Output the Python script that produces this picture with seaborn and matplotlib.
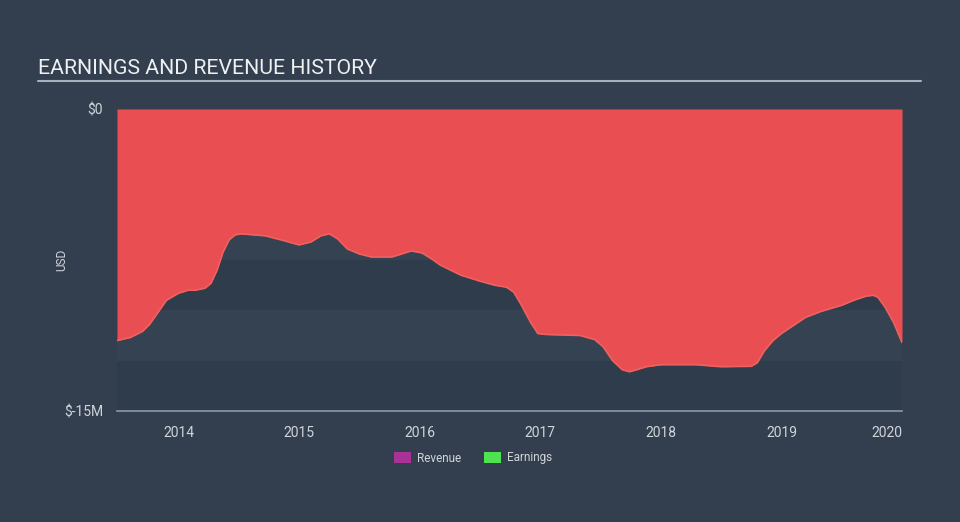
import numpy as np
import pandas as pd
import matplotlib
matplotlib.use("Agg")
import matplotlib.pyplot as plt
from matplotlib.patches import Patch
import seaborn as sns

# ---- data ----
dates = [2013.49, 2013.60, 2013.70, 2013.76, 2013.83, 2013.90, 2014.00, 2014.08, 2014.14,
         2014.22, 2014.27, 2014.32, 2014.37, 2014.42, 2014.47, 2014.52, 2014.72,
         2014.85, 2015.00, 2015.10, 2015.18, 2015.25, 2015.32, 2015.40, 2015.50,
         2015.60, 2015.77, 2015.85, 2015.93, 2016.02, 2016.10, 2016.17, 2016.34,
         2016.50, 2016.62, 2016.72, 2016.78, 2016.84, 2016.92, 2016.98, 2017.05,
         2017.33, 2017.45, 2017.52, 2017.60, 2017.68, 2017.74, 2017.80, 2017.88,
         2018.00, 2018.29, 2018.50, 2018.75, 2018.80, 2018.86, 2018.93, 2019.00,
         2019.10, 2019.20, 2019.33, 2019.50, 2019.60, 2019.70, 2019.76, 2019.80,
         2019.86, 2019.93, 2020.00]
earnings_m = [-11.5, -11.35, -11.05, -10.7, -10.1, -9.5, -9.15, -9.0, -9.0,
              -8.9, -8.65, -8.0, -7.1, -6.5, -6.25, -6.2, -6.3,
              -6.5, -6.75, -6.6, -6.3, -6.2, -6.45, -6.95, -7.2,
              -7.35, -7.35, -7.2, -7.05, -7.15, -7.45, -7.75, -8.25,
              -8.55, -8.75, -8.85, -9.1, -9.7, -10.6, -11.15, -11.2,
              -11.25, -11.45, -11.8, -12.5, -12.95, -13.05, -12.95, -12.8,
              -12.7, -12.7, -12.8, -12.78, -12.6, -12.0, -11.5, -11.15,
              -10.75, -10.35, -10.05, -9.75, -9.5, -9.3, -9.25, -9.35,
              -9.85, -10.6, -11.6]
year_ticks = [2014, 2015, 2016, 2017, 2018, 2019, 2020]
year_labels = ["2014", "2015", "2016", "2017", "2018", "2019", "2020"]
y_ticks = [0, -15]
y_labels = ["$0", "$-15M"]
legend_names = ["Revenue", "Earnings"]

df = pd.DataFrame({"date": dates, "earnings": earnings_m})

BG = "#333f4f"
RED = "#e94f52"
TXT = "#d0d5da"

sns.set_theme(style="white")
plt.rcParams["font.family"] = ["Roboto", "DejaVu Sans"]

fig = plt.figure(figsize=(9.6, 5.22), dpi=100, facecolor=BG)
ax = fig.add_axes([117/960, 1 - 411/522, (902 - 117)/960, (411 - 109)/522])
ax.set_facecolor(BG)

# background bands
band_cols = ["#2f3c4c", "#344252"]
for k in range(6):
    lo, hi = -2.5 * (k + 1), -2.5 * k
    ax.axhspan(lo, hi, color=band_cols[(k + 1) % 2], lw=0, zorder=0)

ax.fill_between(df["date"], 0, df["earnings"], color=RED, lw=0, zorder=2)
sns.lineplot(data=df, x="date", y="earnings", ax=ax, color="#f0605f", lw=1.2, zorder=3)

ax.set_xlim(2013.49, 2020.0)
ax.set_ylim(-15, 0)
ax.set_yticks(y_ticks)
ax.set_yticklabels(y_labels)
ax.set_xticks(year_ticks)
ax.set_xticklabels(year_labels)
ax.get_xticklabels()[-1].set_horizontalalignment("right")
ax.tick_params(axis="y", length=0, pad=10, colors=TXT, labelsize=10)
ax.tick_params(axis="x", length=8, width=1.2, color="#8e99a6", colors=TXT, labelsize=10, pad=3)
for s in ["top", "right", "left"]:
    ax.spines[s].set_visible(False)
ax.spines["bottom"].set_color("#8e99a6")
ax.spines["bottom"].set_linewidth(1.2)
ax.set_xlabel("")
ax.set_ylabel("USD", color=TXT, fontsize=8.5)
ax.yaxis.set_label_coords((68 - 117) / 785, 0.5)

# title + rule
fig.text(38/960, 1 - 68/522, "EARNINGS AND REVENUE HISTORY", color="#eef0f2",
         fontsize=15.3, va="center", ha="left")
fig.add_artist(plt.Line2D([38/960, 921/960], [1 - 81/522, 1 - 81/522],
                          color="#a8b0b9", lw=1.5, transform=fig.transFigure))

handles = [Patch(facecolor="#a83295", edgecolor="none", label=legend_names[0]),
           Patch(facecolor="#4ee34f", edgecolor="none", label=legend_names[1])]
leg = fig.legend(handles=handles, loc="center", bbox_to_anchor=(473/960, 1 - 458/522),
                 ncol=2, frameon=False, fontsize=8.5, handlelength=1.4, handleheight=1.0,
                 columnspacing=2.0, handletextpad=0.5)
for t in leg.get_texts():
    t.set_color(TXT)

fig.savefig("out.png", dpi=100, facecolor=BG)
